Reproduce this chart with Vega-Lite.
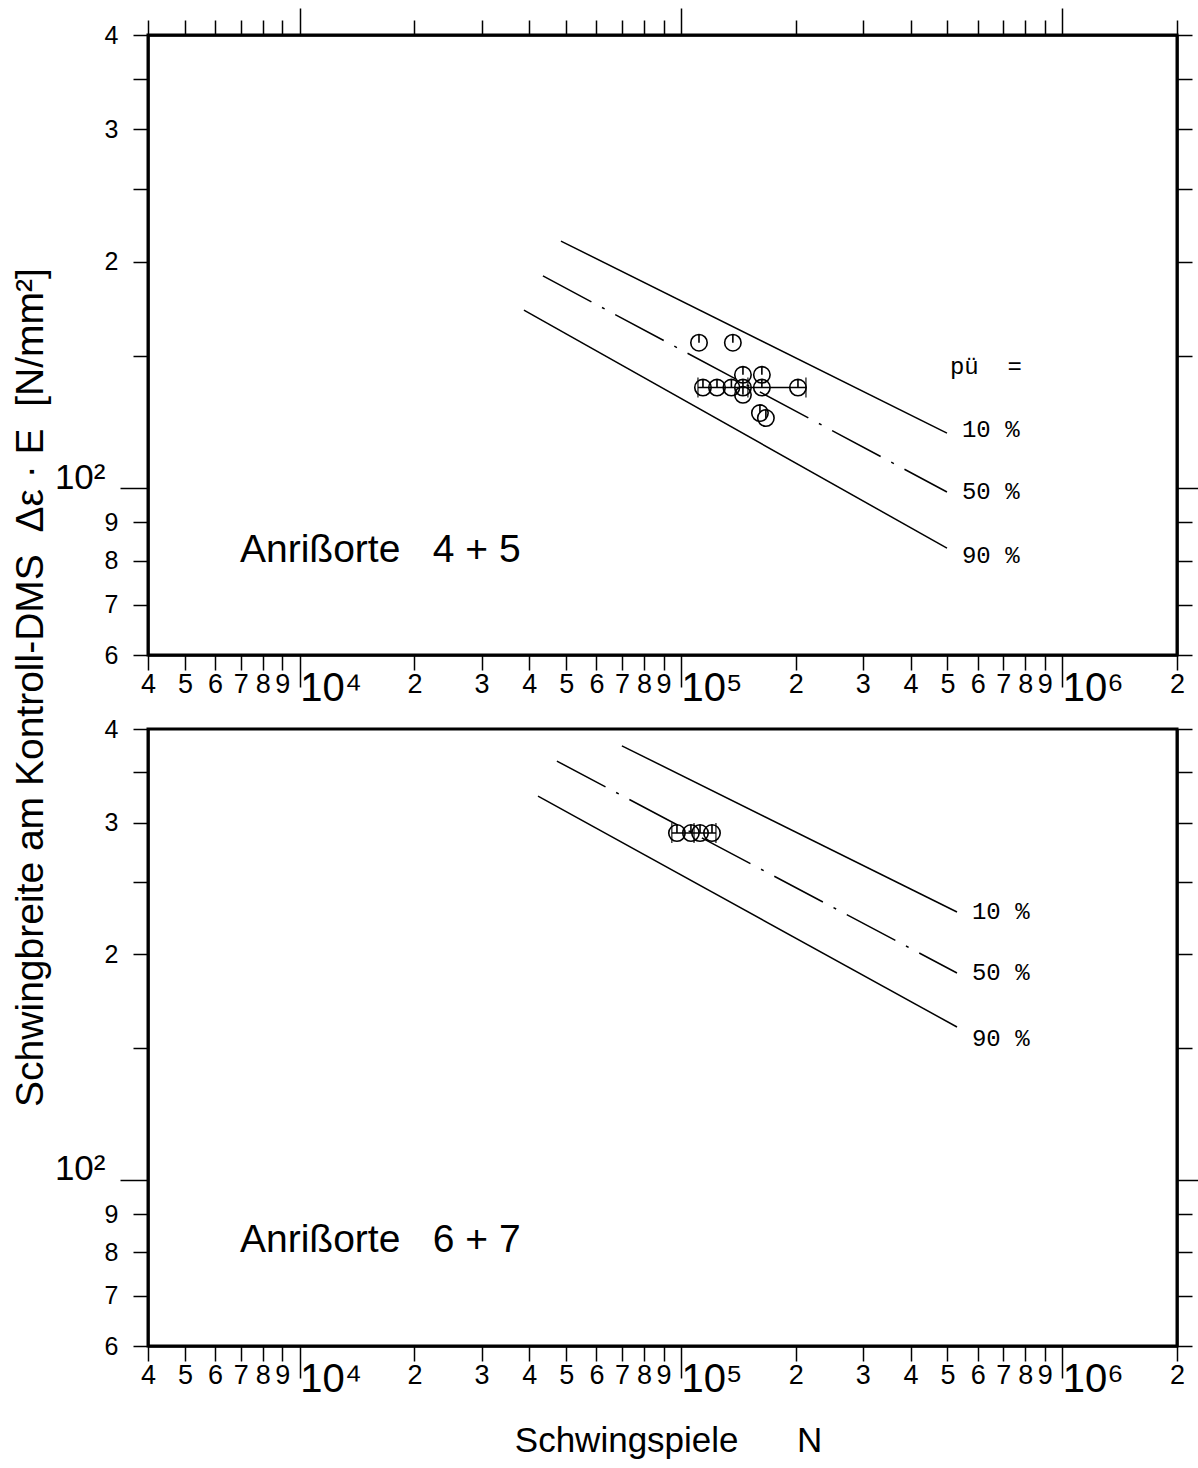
{
  "$schema": "https://vega.github.io/schema/vega-lite/v6.json",
  "autosize": {"type": "none"},
  "padding": {"left": 148, "top": 35, "right": 1050, "bottom": 1433},
  "background": "white",
  "config": {
    "view": {"stroke": "black", "strokeWidth": 3},
    "axis": {
      "domainColor": "black", "domainWidth": 2.5, "tickColor": "black", "tickWidth": 1.5,
      "labelColor": "black", "labelFont": "Liberation Sans Narrow, Liberation Sans", "titleFont": "Liberation Sans",
      "titleColor": "black", "titleFontWeight": "normal", "grid": false,
      "labelOverlap": false, "labelBound": false, "labelFlush": false
    }
  },
  "datasets": {
    "lines": [
      {"panel": "A", "p": "10", "N": 48440, "S": 212.9}, {"panel": "A", "p": "10", "N": 498500, "S": 118.3},
      {"panel": "A", "p": "50", "N": 43440, "S": 191.4}, {"panel": "A", "p": "50", "N": 498500, "S": 98.8},
      {"panel": "A", "p": "90", "N": 38730, "S": 172.4}, {"panel": "A", "p": "90", "N": 498500, "S": 83.2},
      {"panel": "B", "p": "10", "N": 70000, "S": 379.8}, {"panel": "B", "p": "10", "N": 529600, "S": 227.9},
      {"panel": "B", "p": "50", "N": 47270, "S": 362.4}, {"panel": "B", "p": "50", "N": 529600, "S": 188.9},
      {"panel": "B", "p": "90", "N": 42170, "S": 325.4}, {"panel": "B", "p": "90", "N": 529600, "S": 160.0}
    ],
    "pts": [
      {"panel": "A", "N": 111500, "S": 156},
      {"panel": "A", "N": 136800, "S": 156},
      {"panel": "A", "N": 114200, "S": 136},
      {"panel": "A", "N": 124300, "S": 136},
      {"panel": "A", "N": 135600, "S": 136},
      {"panel": "A", "N": 145400, "S": 141.4},
      {"panel": "A", "N": 163000, "S": 141.4},
      {"panel": "A", "N": 145400, "S": 136},
      {"panel": "A", "N": 163000, "S": 136},
      {"panel": "A", "N": 145400, "S": 133},
      {"panel": "A", "N": 202700, "S": 136},
      {"panel": "A", "N": 161100, "S": 125.8},
      {"panel": "A", "N": 167000, "S": 123.9},
      {"panel": "B", "N": 97600, "S": 290.5},
      {"panel": "B", "N": 106200, "S": 290.5},
      {"panel": "B", "N": 112200, "S": 290.5},
      {"panel": "B", "N": 120600, "S": 290.5}
    ],
    "eb": [
      {"panel": "A", "lo": 110800, "mid": 149800, "hi": 212700, "S": 136},
      {"panel": "B", "lo": 94600, "mid": 108200, "hi": 123500, "S": 290.5}
    ],
    "labels": [
      {"panel": "A", "N": 545700, "S": 119.5, "t": "10 %"},
      {"panel": "A", "N": 545700, "S": 98.8, "t": "50 %"},
      {"panel": "A", "N": 545700, "S": 81.2, "t": "90 %"},
      {"panel": "A", "N": 507600, "S": 144.9, "t": "pü\u00a0\u00a0="},
      {"panel": "B", "N": 579600, "S": 227.9, "t": "10 %"},
      {"panel": "B", "N": 579600, "S": 188.9, "t": "50 %"},
      {"panel": "B", "N": 579600, "S": 154.2, "t": "90 %"}
    ],
    "notes": [
      {"panel": "A", "N": 6970, "S": 82.8, "t": "Anrißorte\u00a0\u00a0\u00a04 + 5"},
      {"panel": "B", "N": 6970, "S": 83.1, "t": "Anrißorte\u00a0\u00a0\u00a06 + 7"}
    ]
  },
  "vconcat": [
    {
      "width": 1029,
      "height": 620,
      "resolve": {"axis": {"x": "independent", "y": "independent"}},
      "layer": [
        {
          "data": {"name": "lines"},
          "transform": [{"filter": "datum.panel=='A' && datum.p!='50'"}],
          "mark": {"type": "line", "color": "black", "strokeWidth": 1.5},
          "encoding": {
            "x": {"field": "N", "type": "quantitative", "scale": {"type": "log", "domain": [4000, 2000000], "nice": false},
              "axis": {
                "orient": "bottom", "title": null,
                "values": [4000,5000,6000,7000,8000,9000,10000,20000,30000,40000,50000,60000,70000,80000,90000,100000,200000,300000,400000,500000,600000,700000,800000,900000,1000000,2000000],
                "labelExpr": "datum.value==10000?'10⁴':datum.value==100000?'10⁵':datum.value==1000000?'10⁶':substring(toString(datum.value),0,1)",
                "labelFontSize": {"condition": {"test": "datum.value==10000||datum.value==100000||datum.value==1000000", "value": 40}, "value": 27},
                "labelAlign": {"condition": {"test": "datum.value==10000||datum.value==100000||datum.value==1000000", "value": "left"}, "value": "center"},
                "labelBaseline": "top",
                "labelPadding": {"condition": {"test": "datum.value==10000||datum.value==100000||datum.value==1000000", "value": -19}, "value": 1},
                "tickSize": {"condition": {"test": "datum.value==10000||datum.value==100000||datum.value==1000000", "value": 32}, "value": 15}
              }},
            "y": {"field": "S", "type": "quantitative", "scale": {"type": "log", "domain": [60, 400], "nice": false},
              "axis": {
                "orient": "left",
                "values": [60,70,80,90,100,150,200,250,300,350,400],
                "labelExpr": "datum.value==100?'10²':(datum.value%100==50?'':substring(toString(datum.value),0,1))",
                "labelFontSize": {"condition": {"test": "datum.value==100", "value": 35}, "value": 25},
                "labelBaseline": {"condition": {"test": "datum.value==100", "value": "alphabetic"}, "value": "middle"},
                "labelPadding": 15,
                "tickSize": {"condition": {"test": "datum.value==100", "value": 28}, "value": 15},
                "title": "Schwingbreite am Kontroll-DMS\u00a0\u00a0Δε · E\u00a0\u00a0[N/mm²]",
                "titleFontSize": 39,
                "titleX": -118, "titleY": 652, "titleAngle": -90,
                "titleAlign": "center", "titleBaseline": "middle"
              }},
            "detail": {"field": "p"}
          }
        },
        {
          "data": {"name": "lines"},
          "transform": [{"filter": "datum.panel=='A' && datum.p=='50'"}],
          "mark": {"type": "line", "color": "black", "strokeWidth": 1.5, "strokeDash": [55, 12, 3, 12]},
          "encoding": {
            "x": {"field": "N", "type": "quantitative", "scale": {"type": "log", "domain": [4000, 2000000], "nice": false},
              "axis": {
                "orient": "top", "title": null, "labels": false,
                "values": [4000,5000,6000,7000,8000,9000,10000,20000,30000,40000,50000,60000,70000,80000,90000,100000,200000,300000,400000,500000,600000,700000,800000,900000,1000000,2000000],
                "tickSize": {"condition": {"test": "datum.value==10000||datum.value==100000||datum.value==1000000", "value": 27}, "value": 15}
              }},
            "y": {"field": "S", "type": "quantitative", "scale": {"type": "log", "domain": [60, 400], "nice": false},
              "axis": {
                "orient": "right", "title": null, "labels": false,
                "values": [60,70,80,90,100,150,200,250,300,350,400],
                "tickSize": {"condition": {"test": "datum.value==100", "value": 24}, "value": 15}
              }}
          }
        },
        {
          "data": {"name": "eb"},
          "transform": [{"filter": "datum.panel=='A'"}],
          "mark": {"type": "rule", "color": "black", "strokeWidth": 1.6},
          "encoding": {
            "x": {"field": "lo", "type": "quantitative", "scale": {"type": "log", "domain": [4000, 2000000], "nice": false}, "axis": null},
            "x2": {"field": "hi"},
            "y": {"field": "S", "type": "quantitative", "scale": {"type": "log", "domain": [60, 400], "nice": false}, "axis": null}
          }
        },
        {
          "data": {"name": "eb"},
          "transform": [{"filter": "datum.panel=='A'"}, {"fold": ["lo", "mid", "hi"], "as": ["k", "N"]}],
          "mark": {"type": "tick", "orient": "vertical", "color": "black", "thickness": 1.6, "size": 20},
          "encoding": {
            "x": {"field": "N", "type": "quantitative", "scale": {"type": "log", "domain": [4000, 2000000], "nice": false}, "axis": null},
            "y": {"field": "S", "type": "quantitative", "scale": {"type": "log", "domain": [60, 400], "nice": false}, "axis": null}
          }
        },
        {
          "data": {"name": "pts"},
          "transform": [{"filter": "datum.panel=='A'"}],
          "mark": {"type": "point", "shape": "M-1,0A1,1 0 1,1 1,0A1,1 0 1,1 -1,0M0,-1L0,0", "size": 270, "color": "black", "strokeWidth": 1.6, "filled": false, "opacity": 1},
          "encoding": {
            "x": {"field": "N", "type": "quantitative", "scale": {"type": "log", "domain": [4000, 2000000], "nice": false}, "axis": null},
            "y": {"field": "S", "type": "quantitative", "scale": {"type": "log", "domain": [60, 400], "nice": false}, "axis": null}
          }
        },
        {
          "data": {"name": "labels"},
          "transform": [{"filter": "datum.panel=='A'"}],
          "mark": {"type": "text", "align": "left", "baseline": "middle", "font": "Liberation Mono", "fontSize": 24, "color": "black"},
          "encoding": {
            "x": {"field": "N", "type": "quantitative", "scale": {"type": "log", "domain": [4000, 2000000], "nice": false}, "axis": null},
            "y": {"field": "S", "type": "quantitative", "scale": {"type": "log", "domain": [60, 400], "nice": false}, "axis": null},
            "text": {"field": "t"}
          }
        },
        {
          "data": {"name": "notes"},
          "transform": [{"filter": "datum.panel=='A'"}],
          "mark": {"type": "text", "align": "left", "baseline": "middle", "font": "Liberation Sans", "fontSize": 39, "color": "black"},
          "encoding": {
            "x": {"field": "N", "type": "quantitative", "scale": {"type": "log", "domain": [4000, 2000000], "nice": false}, "axis": null},
            "y": {"field": "S", "type": "quantitative", "scale": {"type": "log", "domain": [60, 400], "nice": false}, "axis": null},
            "text": {"field": "t"}
          }
        }
      ]
    },
    {
      "width": 1029,
      "height": 617,
      "resolve": {"axis": {"x": "independent", "y": "independent"}},
      "layer": [
        {
          "data": {"name": "lines"},
          "transform": [{"filter": "datum.panel=='B' && datum.p!='50'"}],
          "mark": {"type": "line", "color": "black", "strokeWidth": 1.5},
          "encoding": {
            "x": {"field": "N", "type": "quantitative", "scale": {"type": "log", "domain": [4000, 2000000], "nice": false},
              "axis": {
                "orient": "bottom",
                "values": [4000,5000,6000,7000,8000,9000,10000,20000,30000,40000,50000,60000,70000,80000,90000,100000,200000,300000,400000,500000,600000,700000,800000,900000,1000000,2000000],
                "labelExpr": "datum.value==10000?'10⁴':datum.value==100000?'10⁵':datum.value==1000000?'10⁶':substring(toString(datum.value),0,1)",
                "labelFontSize": {"condition": {"test": "datum.value==10000||datum.value==100000||datum.value==1000000", "value": 40}, "value": 27},
                "labelAlign": {"condition": {"test": "datum.value==10000||datum.value==100000||datum.value==1000000", "value": "left"}, "value": "center"},
                "labelBaseline": "top",
                "labelPadding": {"condition": {"test": "datum.value==10000||datum.value==100000||datum.value==1000000", "value": -19}, "value": 1},
                "tickSize": {"condition": {"test": "datum.value==10000||datum.value==100000||datum.value==1000000", "value": 32}, "value": 15},
                "title": "Schwingspiele\u00a0\u00a0\u00a0\u00a0\u00a0\u00a0N",
                "titleFontSize": 35,
                "titleX": 520, "titleY": 94, "titleAlign": "center", "titleBaseline": "middle"
              }},
            "y": {"field": "S", "type": "quantitative", "scale": {"type": "log", "domain": [60, 400], "nice": false},
              "axis": {
                "orient": "left", "title": null,
                "values": [60,70,80,90,100,150,200,250,300,350,400],
                "labelExpr": "datum.value==100?'10²':(datum.value%100==50?'':substring(toString(datum.value),0,1))",
                "labelFontSize": {"condition": {"test": "datum.value==100", "value": 35}, "value": 25},
                "labelBaseline": {"condition": {"test": "datum.value==100", "value": "alphabetic"}, "value": "middle"},
                "labelPadding": 15,
                "tickSize": {"condition": {"test": "datum.value==100", "value": 28}, "value": 15}
              }},
            "detail": {"field": "p"}
          }
        },
        {
          "data": {"name": "lines"},
          "transform": [{"filter": "datum.panel=='B' && datum.p=='50'"}],
          "mark": {"type": "line", "color": "black", "strokeWidth": 1.5, "strokeDash": [55, 12, 3, 12]},
          "encoding": {
            "x": {"field": "N", "type": "quantitative", "scale": {"type": "log", "domain": [4000, 2000000], "nice": false}, "axis": null},
            "y": {"field": "S", "type": "quantitative", "scale": {"type": "log", "domain": [60, 400], "nice": false},
              "axis": {
                "orient": "right", "title": null, "labels": false,
                "values": [60,70,80,90,100,150,200,250,300,350,400],
                "tickSize": {"condition": {"test": "datum.value==100", "value": 24}, "value": 15}
              }}
          }
        },
        {
          "data": {"name": "eb"},
          "transform": [{"filter": "datum.panel=='B'"}],
          "mark": {"type": "rule", "color": "black", "strokeWidth": 1.6},
          "encoding": {
            "x": {"field": "lo", "type": "quantitative", "scale": {"type": "log", "domain": [4000, 2000000], "nice": false}, "axis": null},
            "x2": {"field": "hi"},
            "y": {"field": "S", "type": "quantitative", "scale": {"type": "log", "domain": [60, 400], "nice": false}, "axis": null}
          }
        },
        {
          "data": {"name": "eb"},
          "transform": [{"filter": "datum.panel=='B'"}, {"fold": ["lo", "mid", "hi"], "as": ["k", "N"]}],
          "mark": {"type": "tick", "orient": "vertical", "color": "black", "thickness": 1.6, "size": 20},
          "encoding": {
            "x": {"field": "N", "type": "quantitative", "scale": {"type": "log", "domain": [4000, 2000000], "nice": false}, "axis": null},
            "y": {"field": "S", "type": "quantitative", "scale": {"type": "log", "domain": [60, 400], "nice": false}, "axis": null}
          }
        },
        {
          "data": {"name": "pts"},
          "transform": [{"filter": "datum.panel=='B'"}],
          "mark": {"type": "point", "shape": "M-1,0A1,1 0 1,1 1,0A1,1 0 1,1 -1,0M0,-1L0,0", "size": 270, "color": "black", "strokeWidth": 1.6, "filled": false, "opacity": 1},
          "encoding": {
            "x": {"field": "N", "type": "quantitative", "scale": {"type": "log", "domain": [4000, 2000000], "nice": false}, "axis": null},
            "y": {"field": "S", "type": "quantitative", "scale": {"type": "log", "domain": [60, 400], "nice": false}, "axis": null}
          }
        },
        {
          "data": {"name": "labels"},
          "transform": [{"filter": "datum.panel=='B'"}],
          "mark": {"type": "text", "align": "left", "baseline": "middle", "font": "Liberation Mono", "fontSize": 24, "color": "black"},
          "encoding": {
            "x": {"field": "N", "type": "quantitative", "scale": {"type": "log", "domain": [4000, 2000000], "nice": false}, "axis": null},
            "y": {"field": "S", "type": "quantitative", "scale": {"type": "log", "domain": [60, 400], "nice": false}, "axis": null},
            "text": {"field": "t"}
          }
        },
        {
          "data": {"name": "notes"},
          "transform": [{"filter": "datum.panel=='B'"}],
          "mark": {"type": "text", "align": "left", "baseline": "middle", "font": "Liberation Sans", "fontSize": 39, "color": "black"},
          "encoding": {
            "x": {"field": "N", "type": "quantitative", "scale": {"type": "log", "domain": [4000, 2000000], "nice": false}, "axis": null},
            "y": {"field": "S", "type": "quantitative", "scale": {"type": "log", "domain": [60, 400], "nice": false}, "axis": null},
            "text": {"field": "t"}
          }
        }
      ]
    }
  ],
  "spacing": 74,
  "bounds": "flush"
}
